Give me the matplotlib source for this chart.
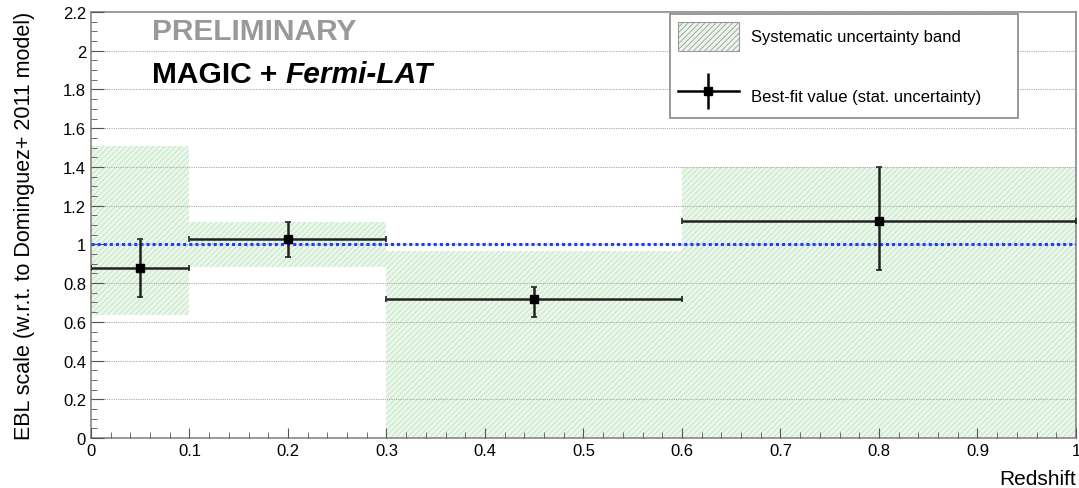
import matplotlib.pyplot as plt
from matplotlib.ticker import MultipleLocator
from matplotlib.lines import Line2D

plt.rcParams['font.family'] = ['Liberation Sans', 'DejaVu Sans']
plt.rcParams['hatch.linewidth'] = 0.6

# bins in redshift
bin_lo = [0.0, 0.1, 0.3, 0.6]
bin_hi = [0.1, 0.3, 0.6, 1.0]
# systematic band (low / high edge per bin)
band_lo = [0.635, 0.883, 0.0, 0.0]
band_hi = [1.51, 1.114, 0.966, 1.40]
# best-fit values with stat. errors
z_mid = [0.05, 0.2, 0.45, 0.8]
ebl_scale = [0.88, 1.03, 0.72, 1.12]
err_up = [0.15, 0.085, 0.06, 0.28]
err_dn = [0.15, 0.095, 0.094, 0.25]

fig = plt.figure(figsize=(10.79, 4.89), dpi=100)
ax = fig.add_axes([0.0843, 0.1022, 0.9129, 0.8712])

widths = [h - l for l, h in zip(bin_lo, bin_hi)]
heights = [h - l for l, h in zip(band_lo, band_hi)]
band = ax.bar(bin_lo, heights, width=widths, bottom=band_lo, align='edge',
              facecolor='#ebf7eb', edgecolor='#bfe3bf', hatch='//////',
              linewidth=0, zorder=1, label='Systematic uncertainty band')

ax.axhline(1.0, color='#1f3cff', linestyle=(0, (1, 1)), linewidth=2.2, zorder=3)

xerr_lo = [m - l for m, l in zip(z_mid, bin_lo)]
xerr_hi = [h - m for m, h in zip(z_mid, bin_hi)]
ax.errorbar(z_mid, ebl_scale, xerr=[xerr_lo, xerr_hi], yerr=[err_dn, err_up],
            fmt='s', color='black', ecolor='#222222', markersize=6,
            elinewidth=1.8, capsize=2, capthick=1.2, zorder=4)

ax.set_xlim(0, 1)
ax.set_ylim(0, 2.2)
ax.xaxis.set_major_locator(MultipleLocator(0.1))
ax.xaxis.set_minor_locator(MultipleLocator(0.02))
ax.yaxis.set_major_locator(MultipleLocator(0.2))
ax.yaxis.set_minor_locator(MultipleLocator(0.05))
ax.xaxis.set_major_formatter(plt.FuncFormatter(lambda v, p: f'{v:g}'))
ax.yaxis.set_major_formatter(plt.FuncFormatter(lambda v, p: f'{v:g}'))
ax.tick_params(which='both', direction='in', colors='#555555', labelcolor='black',
               labelsize=12, top=False, right=False)
ax.tick_params(axis='y', which='major', length=9)
ax.tick_params(axis='y', which='minor', length=4.5)
ax.tick_params(axis='x', which='major', length=7)
ax.tick_params(axis='x', which='minor', length=4)
ax.yaxis.grid(True, which='major', color='#aaaaaa', linestyle=(0, (1, 1)), linewidth=0.8)
ax.set_axisbelow(False)
for s in ax.spines.values():
    s.set_color('#888888')
    s.set_linewidth(1.2)

ax.set_ylabel('EBL scale (w.r.t. to Dominguez+ 2011 model)', fontsize=15.5, labelpad=20)
ax.set_xlabel('Redshift', fontsize=15, loc='right', labelpad=8)

ax.text(0.062, 0.955, 'PRELIMINARY', transform=ax.transAxes, fontsize=21.5,
        fontweight='bold', color='#999999', va='center')
t1 = ax.text(0.062, 0.855, 'MAGIC + ', transform=ax.transAxes, fontsize=21.5,
             fontweight='bold', color='black', va='center')
ax.annotate('Fermi-LAT', xy=(1, 0.5), xycoords=t1, va='center', fontsize=21.5,
            fontweight='bold', fontstyle='italic', color='black')

# legend proxy for the error bar symbol: horizontal bar + vertical bar + marker
h_line = Line2D([], [], color='black', marker='s', markersize=6, linewidth=1.8)
v_line = Line2D([], [], color='black', marker='|', markersize=26,
                markeredgewidth=1.8, linestyle='None')
leg = ax.legend(handles=[band, (h_line, v_line)],
                labels=['Systematic uncertainty band', 'Best-fit value (stat. uncertainty)'],
                loc='upper left', bbox_to_anchor=(0.588, 0.749, 0.353, 0.246),
                mode='expand', borderaxespad=0, fontsize=12, handlelength=3.7,
                handleheight=2.3, labelspacing=1.85, handletextpad=0.7,
                borderpad=0.45, fancybox=False, framealpha=1, edgecolor='#888888')
leg.get_frame().set_linewidth(1.2)
for p in leg.get_patches():
    p.set_edgecolor('#999999')
    p.set_linewidth(0.8)

fig.savefig('out.png', dpi=100)
